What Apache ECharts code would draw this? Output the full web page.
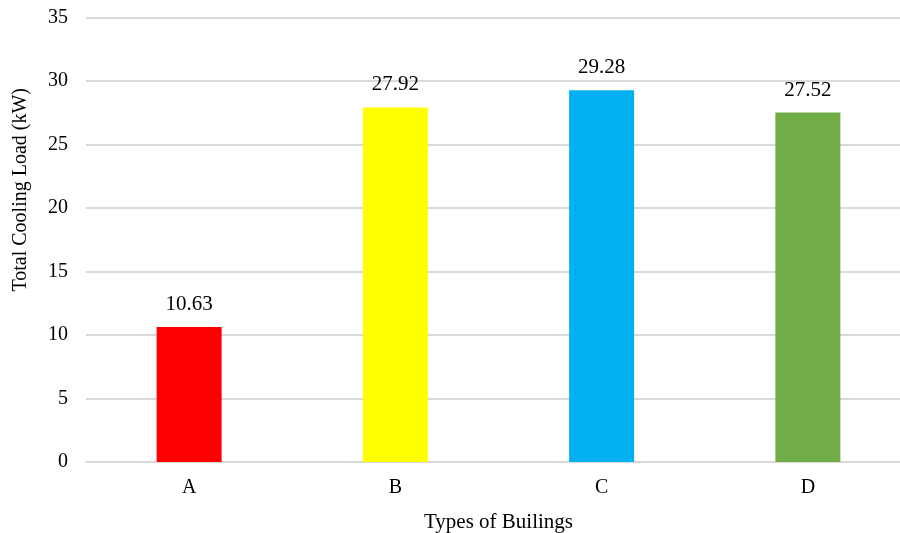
<!DOCTYPE html>
<html>
<head>
<meta charset="utf-8">
<script src="https://cdn.jsdelivr.net/npm/echarts@6/dist/echarts.min.js"></script>
<style>
  html, body { margin: 0; padding: 0; background: #fff; }
  #chart { width: 900px; height: 533px; }
</style>
</head>
<body>
<div id="chart"></div>
<script>
// Building types and their total cooling load (kW)
const categories = ['A', 'B', 'C', 'D'];
const coolingLoad = [10.63, 27.92, 29.28, 27.52];
const barColors = ['#FF0000', '#FFFF00', '#00B0F0', '#70AD47'];

const font = '"Liberation Serif", "Times New Roman", serif';

const chart = echarts.init(document.getElementById('chart'));
chart.setOption({
  animation: false,
  textStyle: { fontFamily: font },
  // the plot runs slightly past the right edge of the canvas
  grid: {
    left: 86, width: 825, top: 17.5, bottom: 71,
    containLabel: false,
    outerBoundsMode: 'none'
  },
  xAxis: {
    type: 'category',
    data: categories,
    name: 'Types of Builings',
    nameLocation: 'middle',
    nameGap: 50,
    nameTextStyle: { fontFamily: font, fontSize: 21, color: '#000' },
    axisLine: { lineStyle: { color: '#D9D9D9', width: 2 } },
    axisTick: { show: false },
    axisLabel: { fontFamily: font, fontSize: 20, color: '#000', margin: 16 }
  },
  yAxis: {
    type: 'value',
    min: 0,
    max: 35,
    interval: 5,
    name: 'Total Cooling Load (kW)',
    nameLocation: 'middle',
    nameGap: 55,
    // left padding lifts the title above the plot's midpoint
    nameTextStyle: { fontFamily: font, fontSize: 20, color: '#000', padding: [0, 0, 0, 100] },
    axisLine: { show: false },
    axisTick: { show: false },
    axisLabel: { fontFamily: font, fontSize: 20, color: '#000', margin: 18 },
    splitLine: { lineStyle: { color: '#D9D9D9', width: 2 } }
  },
  series: [{
    type: 'bar',
    barWidth: 65,
    data: coolingLoad.map((v, i) => ({ value: v, itemStyle: { color: barColors[i] } })),
    label: {
      show: true,
      position: 'top',
      distance: 12,
      fontFamily: font,
      fontSize: 21,
      color: '#000',
      formatter: p => p.value.toFixed(2)
    }
  }]
});
</script>
</body>
</html>
